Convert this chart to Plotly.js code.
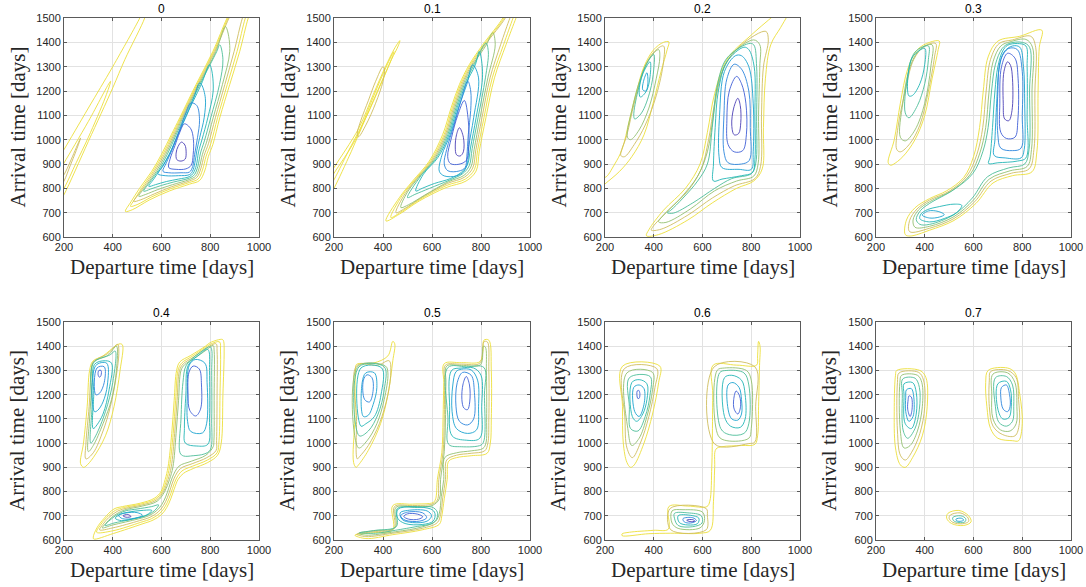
<!DOCTYPE html>
<html>
<head>
<meta charset="utf-8">
<script src="https://cdn.plot.ly/plotly-3.0.1.min.js"></script>
<style>html,body{margin:0;padding:0;background:#fff;}#chart{width:1086px;height:587px;}</style>
</head>
<body>
<div id="chart"></div>
<script>
const panelTitles = ['0','0.1','0.2','0.3','0.4','0.5','0.6','0.7'];
const xTickVals = [200,400,600,800,1000];
const yTickVals = [600,700,800,900,1000,1100,1200,1300,1400,1500];
const xTitleText = 'Departure time [days]';
const yTitleText = 'Arrival time [days]';
// contour level colours, innermost (0) to outermost (8)
const levelColors = ['#4b3fb5','#3f5fd6','#2d86dc','#1ba3cf','#23b5b5','#4dbd98','#93bf70','#cfbd5f','#ecdf3a'];

// each loop: [level, [x1,y1, x2,y2, ...]]
const loops_p0 = [
 [8,[890,1540,869,1500,811,1363,742,1227,675,1090,640,1020,600,940,560,870,510,800,475,745,452,705,480,712,550,752,632,789,714,817,756,832,777,871,792,930,811,981,839,1090,880,1227,921,1363,956,1500,972,1540]],
 [8,[894,1540,873,1500,815,1363,746,1227,679,1090,645,1020,606,940,566,870,518,800,488,752,473,726,500,733,560,765,636,798,714,824,750,838,768,875,783,932,802,983,830,1090,870,1227,910,1363,944,1500,960,1540]],
 [7,[898,1540,877,1500,819,1363,750,1227,683,1090,650,1020,612,940,572,870,527,805,500,768,486,746,515,753,570,777,640,806,714,830,745,845,761,880,775,935,793,985,821,1090,860,1227,898,1363,932,1500,948,1540]],
 [6,[862,1465,823,1363,754,1227,687,1090,655,1020,618,940,580,872,538,812,507,767,535,775,585,795,645,815,714,836,740,850,755,885,768,940,785,990,812,1090,850,1227,880,1363,870,1450,862,1465]],
 [5,[839,1390,827,1363,758,1227,692,1090,660,1020,624,940,590,878,552,825,527,788,555,797,600,812,650,826,714,842,735,856,749,890,760,945,776,995,802,1090,838,1227,852,1330,839,1390]],
 [4,[797,1308,763,1227,697,1090,666,1020,632,940,600,885,568,838,548,808,575,815,620,828,670,838,714,848,730,862,743,895,752,950,766,1000,790,1090,812,1200,805,1290,797,1308]],
 [3,[756,1233,735,1180,703,1100,672,1030,640,955,605,890,585,860,615,852,670,852,714,856,727,870,737,905,745,955,757,1010,775,1090,780,1170,765,1225,756,1233]],
 [2,[721,1151,700,1110,678,1050,648,970,620,905,606,870,630,864,680,864,715,867,728,890,736,940,748,1010,756,1080,745,1140,721,1151]],
 [1,[694,1065,675,1030,655,975,635,920,630,885,660,878,700,880,722,895,730,940,731,1000,720,1045,694,1065]],
 [0,[682,990,668,972,660,945,663,918,680,912,697,920,701,950,696,978,682,990]],
 [8,[180,925,200,959,300,1130,400,1300,511,1500,520,1520,535,1520,531,1500,450,1330,400,1213,300,993,200,774,180,740]],
 [8,[180,870,200,904,300,1075,391,1240,370,1175,300,1010,250,905,200,800,180,770]],
 [7,[180,830,200,856,268,1007,250,955,225,892,200,830,180,800]]
];
const loops_p1 = [
 [8,[900,1530,889,1500,807,1390,752,1308,712,1227,678,1131,644,1022,589,912,521,830,467,762,412,666,467,694,548,748,657,803,739,830,780,871,793,953,820,1090,855,1254,902,1390,943,1500,955,1530]],
 [8,[905,1530,894,1500,812,1390,757,1308,717,1227,683,1131,650,1022,596,915,530,835,478,770,432,680,478,706,555,757,660,812,736,838,773,877,786,955,812,1090,846,1254,892,1390,931,1500,943,1530]],
 [7,[910,1530,899,1500,817,1390,762,1308,722,1227,688,1131,655,1022,603,918,538,840,490,778,453,700,490,718,562,765,663,820,733,846,766,883,779,958,804,1090,837,1254,880,1390,918,1500,930,1530]],
 [6,[848,1440,822,1390,767,1308,727,1227,693,1131,660,1022,610,921,546,845,500,785,473,721,505,733,570,772,667,827,730,853,759,888,772,960,796,1090,828,1254,858,1390,848,1440]],
 [5,[820,1397,772,1308,732,1227,698,1131,665,1022,617,924,555,852,500,762,530,775,590,800,670,833,725,860,752,893,764,963,788,1090,818,1254,830,1360,820,1397]],
 [4,[793,1363,777,1308,737,1227,703,1131,670,1022,625,928,565,858,534,789,560,800,610,820,675,840,720,866,745,898,757,966,780,1090,806,1254,800,1340,793,1363]],
 [3,[766,1308,742,1227,708,1131,675,1022,640,935,630,870,650,851,700,851,730,870,745,905,750,970,770,1090,790,1254,766,1308]],
 [2,[746,1240,718,1160,690,1060,660,960,650,900,665,872,710,871,735,885,742,930,748,1020,758,1120,758,1200,746,1240]],
 [1,[732,1161,705,1100,680,1010,664,930,675,902,710,899,740,915,750,980,748,1080,732,1161]],
 [0,[712,1049,700,1020,695,970,700,938,715,933,728,950,728,1010,712,1049]],
 [8,[180,850,200,885,300,1045,360,1185,410,1300,450,1380,469,1407,462,1385,435,1330,395,1240,330,1090,270,950,200,800,180,765]],
 [8,[180,830,200,862,290,1005,350,1150,400,1270,440,1355,445,1362,430,1320,390,1225,330,1090,270,975,200,835,180,800]],
 [7,[400,1300,370,1240,340,1160,310,1080,295,1025,300,1012,330,1060,370,1150,400,1240,406,1290,400,1300]]
];
const loops_p2 = [
 [8,[905,1520,800,1430,700,1330,650,1190,620,1030,590,900,530,800,440,710,380,630,370,605,420,610,540,670,640,740,740,800,810,830,845,880,850,1050,858,1250,880,1390,920,1460,955,1520]],
 [7,[860,1445,760,1390,690,1300,650,1150,625,1000,595,880,540,790,460,710,395,640,390,628,430,632,540,690,640,760,730,810,815,840,838,890,842,1100,850,1300,870,1410,860,1445]],
 [6,[810,1410,720,1350,670,1250,645,1100,620,950,580,850,510,760,440,690,420,662,450,660,550,715,650,790,740,830,810,850,828,900,830,1100,835,1300,835,1390,810,1410]],
 [5,[790,1395,700,1335,660,1220,640,1050,620,900,580,830,520,760,470,710,455,700,480,698,560,740,650,800,720,840,800,860,818,900,822,1100,822,1300,810,1390,790,1395]],
 [4,[770,1380,700,1320,665,1200,652,1050,645,900,645,830,680,838,760,852,805,865,815,920,815,1100,812,1300,790,1370,770,1380]],
 [3,[735,1345,690,1280,670,1100,668,930,680,885,750,878,800,878,808,950,808,1150,790,1300,760,1345,735,1345]],
 [2,[730,1310,700,1250,688,1100,688,950,705,905,760,900,792,915,796,1050,790,1200,760,1290,730,1310]],
 [1,[740,1260,710,1200,700,1080,705,980,730,950,765,955,780,1020,778,1150,760,1230,740,1260]],
 [0,[745,1170,728,1130,720,1060,730,1020,748,1025,757,1070,755,1140,745,1170]],
 [8,[180,865,200,845,240,900,270,960,300,1080,330,1200,360,1300,400,1370,440,1400,462,1402,455,1370,430,1280,400,1160,360,1020,310,930,260,870,200,818,180,800]],
 [7,[440,1385,400,1360,360,1290,320,1150,290,1020,265,935,280,930,320,980,365,1060,410,1180,440,1320,440,1385]],
 [6,[420,1370,380,1330,345,1250,310,1120,292,1010,305,1000,340,1040,380,1130,410,1250,425,1340,420,1370]],
 [5,[400,1350,365,1300,335,1200,318,1100,322,1085,350,1110,385,1200,400,1290,400,1350]],
 [4,[385,1320,355,1270,340,1200,345,1175,370,1200,385,1260,385,1320]],
 [3,[372,1275,358,1240,355,1205,368,1200,376,1235,372,1275]]
];
const loops_p3 = [
 [8,[880,1450,790,1425,700,1405,660,1340,640,1200,625,1050,600,930,560,845,490,790,420,758,360,720,325,670,320,610,340,604,420,628,520,668,610,738,680,822,760,852,840,868,860,950,865,1200,870,1380,880,1450]],
 [7,[835,1425,760,1410,705,1395,670,1330,652,1200,638,1050,614,940,572,850,500,788,420,752,368,715,338,668,338,622,420,636,520,676,605,745,672,830,755,862,828,880,848,960,852,1200,855,1380,835,1425]],
 [6,[815,1412,750,1402,712,1385,680,1320,664,1200,650,1050,626,945,585,855,510,790,420,745,375,712,352,670,360,640,420,644,520,684,600,752,665,838,750,872,820,890,838,960,840,1200,842,1380,815,1412]],
 [5,[800,1400,745,1395,718,1375,690,1310,674,1200,660,1050,638,950,598,862,520,795,420,738,382,708,365,672,380,652,420,652,520,692,595,760,658,848,745,884,810,900,828,960,830,1200,830,1380,800,1400]],
 [4,[780,1395,740,1388,720,1365,700,1300,688,1200,678,1050,668,930,662,902,700,905,780,912,815,925,820,1100,820,1300,815,1385,780,1395]],
 [3,[760,1385,725,1360,705,1290,695,1150,688,1000,685,935,730,925,795,925,808,960,810,1150,805,1300,790,1380,760,1385]],
 [2,[745,1375,712,1330,700,1200,700,1020,712,965,760,955,795,965,800,1100,800,1280,780,1370,745,1375]],
 [1,[740,1355,715,1300,708,1150,712,1030,735,1005,770,1010,782,1080,783,1250,770,1335,740,1355]],
 [0,[740,1320,725,1280,722,1150,728,1085,745,1078,758,1120,760,1250,752,1305,740,1320]],
 [4,[380,675,420,662,480,676,530,700,552,730,520,735,460,725,410,712,385,695,380,675]],
 [3,[390,690,420,678,460,682,480,692,455,705,415,707,390,690]],
 [8,[260,895,250,905,275,1000,300,1150,330,1290,370,1370,420,1400,460,1405,455,1370,430,1250,400,1100,360,1000,310,930,270,898,260,895]],
 [7,[445,1395,400,1385,355,1330,320,1200,290,1050,285,960,300,950,340,985,380,1060,415,1200,440,1340,445,1395]],
 [6,[430,1390,380,1370,340,1300,310,1150,300,1010,320,995,360,1040,400,1150,425,1300,430,1390]],
 [5,[415,1385,360,1360,330,1260,320,1110,335,1090,370,1140,400,1230,415,1330,415,1385]],
 [4,[400,1375,350,1340,332,1270,335,1180,350,1182,380,1230,400,1310,400,1375]]
];
const loops_p4 = [
 [8,[850,1428,800,1415,780,1400,720,1362,675,1335,662,1300,652,1177,642,1040,627,902,615,850,598,800,570,772,513,752,440,738,405,728,365,690,335,650,320,612,322,604,403,627,520,666,565,682,600,705,622,735,638,770,652,810,668,850,690,875,730,895,790,920,830,950,845,1000,852,1200,857,1380,855,1420,850,1428]],
 [8,[838,1418,800,1408,780,1395,725,1358,682,1330,668,1300,658,1177,648,1040,633,902,621,850,603,800,574,768,515,748,445,734,412,723,374,692,348,660,334,632,400,638,515,673,559,688,593,710,615,738,631,772,645,812,660,852,684,885,728,905,788,930,828,960,836,1010,840,1200,842,1380,838,1418]],
 [7,[824,1410,780,1390,730,1354,689,1327,674,1300,664,1177,654,1040,640,902,627,850,608,800,578,764,518,744,450,730,418,718,384,693,360,665,346,642,400,650,510,680,553,694,586,715,608,742,624,775,638,815,652,855,678,895,726,915,786,940,824,970,826,1010,828,1200,828,1380,824,1410]],
 [6,[812,1403,785,1385,735,1350,695,1324,680,1300,670,1177,660,1040,647,902,633,850,613,800,582,760,521,740,455,726,424,713,394,692,371,668,357,650,400,662,505,687,547,700,579,720,601,746,617,778,631,818,645,860,672,905,722,925,782,950,812,985,815,1010,816,1200,816,1380,812,1403]],
 [5,[800,1398,760,1375,702,1322,688,1250,680,1100,676,960,690,947,730,948,775,955,800,972,806,1100,806,1300,806,1385,800,1398]],
 [4,[788,1388,755,1365,710,1322,700,1200,694,1060,698,1000,745,988,790,995,797,1100,797,1300,795,1378,788,1388]],
 [3,[738,1345,714,1322,706,1200,707,1090,720,1048,768,1042,785,1080,787,1250,778,1330,738,1345]],
 [1,[730,1318,713,1293,709,1200,716,1135,740,1112,760,1140,764,1240,755,1306,730,1318]],
 [5,[428,710,398,690,368,660,405,670,470,684,535,700,572,722,588,745,560,738,500,728,455,721,428,710]],
 [4,[432,706,410,690,435,680,495,690,540,704,560,722,520,722,470,716,432,706]],
 [3,[424,702,440,688,490,690,522,702,500,713,455,712,424,702]],
 [0,[442,700,455,694,475,697,462,705,442,700]],
 [8,[280,900,268,915,280,1000,295,1150,305,1300,318,1338,360,1360,410,1400,430,1410,440,1405,430,1300,405,1150,370,1030,320,940,290,905,280,900]],
 [7,[290,935,290,1000,303,1150,312,1300,320,1335,380,1370,420,1408,425,1380,415,1280,390,1150,360,1050,320,960,290,935]],
 [6,[300,965,305,1100,315,1250,320,1333,380,1362,415,1400,415,1300,395,1180,360,1080,320,990,300,965]],
 [5,[310,1000,315,1150,320,1330,390,1365,410,1380,400,1250,370,1130,330,1030,310,1000]],
 [4,[320,1060,322,1200,325,1325,370,1340,395,1330,385,1220,360,1120,335,1075,320,1060]],
 [3,[325,1130,330,1320,375,1330,378,1240,360,1170,338,1135,325,1130]],
 [2,[330,1200,335,1310,365,1315,365,1250,345,1205,330,1200]],
 [1,[340,1282,343,1300,352,1300,352,1280,346,1272,340,1282]]
];
const loops_p5 = [
 [8,[285,620,360,630,440,642,440,742,520,748,605,755,615,770,622,850,640,960,645,1100,648,1250,650,1328,720,1332,795,1336,808,1380,812,1425,832,1425,842,1300,842,1100,838,1000,825,958,760,948,700,940,668,925,662,850,650,770,640,700,630,665,560,642,440,622,330,606,285,620]],
 [7,[292,624,360,634,445,648,447,738,520,742,600,748,622,765,628,850,645,960,650,1100,652,1250,655,1322,720,1326,795,1330,812,1418,826,1418,832,1300,832,1100,828,1000,815,968,760,958,700,950,660,930,655,850,644,775,635,705,622,672,560,648,440,628,330,614,292,624]],
 [6,[300,628,360,638,450,652,452,734,520,738,600,742,630,770,635,850,650,965,655,1100,657,1250,660,1318,720,1321,798,1324,810,1400,818,1396,822,1300,823,1100,820,1000,808,978,760,968,700,960,652,940,648,850,638,780,630,710,615,678,560,654,450,634,330,620,300,628]],
 [5,[665,1312,665,1100,668,995,720,985,800,992,812,1010,814,1200,812,1312,740,1315,665,1312]],
 [4,[680,1300,672,1150,682,1030,740,1012,795,1020,803,1150,800,1280,770,1310,720,1310,680,1300]],
 [3,[698,1295,685,1240,682,1130,700,1060,745,1040,782,1055,790,1150,786,1260,760,1302,720,1305,698,1295]],
 [2,[725,1292,703,1250,698,1150,712,1090,745,1075,770,1100,773,1210,760,1280,725,1292]],
 [1,[740,1275,727,1245,722,1180,730,1145,745,1138,754,1170,753,1240,740,1275]],
 [5,[305,630,370,640,455,656,458,730,540,734,600,736,622,715,618,685,600,668,540,656,450,640,370,628,305,630]],
 [4,[462,728,460,690,490,668,560,664,605,678,612,710,595,728,462,728]],
 [3,[470,712,478,685,520,672,580,678,598,700,580,720,500,722,470,712]],
 [2,[472,700,490,682,550,678,578,692,562,712,500,715,472,700]],
 [1,[485,697,505,686,545,686,562,696,540,707,500,708,485,697]],
 [8,[290,900,280,920,285,1100,288,1300,292,1325,360,1330,420,1360,440,1420,448,1410,440,1340,420,1200,390,1080,340,970,300,910,290,900]],
 [7,[295,935,292,1100,293,1320,380,1322,425,1340,432,1300,420,1200,385,1080,340,990,305,945,295,935]],
 [6,[300,980,298,1318,410,1318,420,1290,405,1180,375,1080,335,1010,300,980]],
 [5,[303,1030,302,1315,405,1315,405,1220,380,1120,340,1050,303,1030]],
 [4,[310,1070,310,1310,395,1310,392,1200,365,1110,330,1080,310,1070]],
 [3,[320,1110,315,1250,330,1290,365,1290,375,1230,360,1160,340,1115,320,1110]],
 [2,[325,1180,320,1260,335,1282,355,1270,360,1220,345,1170,325,1180]]
];
const loops_p6 = [
 [8,[270,625,300,632,400,640,460,645,462,738,540,740,618,738,630,760,638,900,640,985,642,1200,644,1322,740,1322,822,1322,826,1360,830,1420,836,1400,834,1320,830,1150,826,1030,815,995,760,990,680,985,655,975,650,900,645,760,632,640,590,628,470,628,380,626,270,618,270,625]],
 [7,[648,1315,815,1315,818,1150,815,1005,790,998,650,996,648,1315]],
 [7,[467,730,615,730,620,700,615,642,470,642,467,730]],
 [6,[660,1300,690,1310,780,1300,800,1260,800,1060,790,1020,700,1010,665,1030,660,1300]],
 [5,[670,1290,700,1300,770,1290,790,1240,790,1080,770,1040,710,1035,675,1060,670,1290]],
 [4,[690,1270,720,1280,760,1260,775,1200,775,1100,755,1065,715,1070,690,1110,690,1270]],
 [3,[705,1240,725,1250,750,1230,760,1180,760,1120,745,1095,720,1100,705,1140,705,1240]],
 [1,[738,1215,728,1180,730,1140,745,1120,756,1150,752,1195,738,1215]],
 [6,[475,720,520,725,600,715,608,680,590,650,500,648,475,670,475,720]],
 [5,[485,710,540,712,595,700,598,670,560,655,500,660,485,690,485,710]],
 [4,[500,700,550,702,585,690,580,668,540,662,505,672,500,700]],
 [2,[520,688,560,692,575,680,550,670,525,675,520,688]],
 [0,[535,682,560,684,568,678,548,676,535,682]],
 [8,[272,1318,425,1318,420,1250,395,1120,360,1000,320,910,305,900,290,920,275,1000,272,1150,272,1318]],
 [7,[280,1308,412,1308,405,1230,380,1110,345,1000,312,940,290,980,282,1100,280,1308]],
 [6,[290,1290,395,1292,395,1220,372,1110,340,1020,310,990,295,1050,290,1290]],
 [5,[300,1270,385,1275,385,1200,365,1110,335,1050,305,1060,300,1150,300,1270]],
 [4,[310,1250,340,1262,372,1245,372,1180,355,1120,330,1090,312,1110,310,1250]],
 [3,[318,1230,340,1240,360,1225,360,1160,340,1110,322,1130,318,1230]],
 [1,[332,1215,338,1218,343,1205,340,1185,334,1185,332,1215]]
];
const loops_p7 = [
 [8,[285,1300,380,1300,405,1270,410,1150,390,1030,350,940,320,900,300,910,280,980,275,1150,280,1280,285,1300]],
 [7,[295,1290,375,1292,395,1260,400,1150,380,1040,345,960,320,930,300,950,288,1050,288,1250,295,1290]],
 [6,[305,1280,370,1280,388,1250,390,1150,370,1050,340,990,315,980,300,1050,298,1250,305,1280]],
 [5,[310,1265,360,1268,378,1230,378,1140,360,1060,330,1020,312,1050,308,1200,310,1265]],
 [4,[315,1245,350,1250,365,1210,365,1120,345,1060,320,1080,315,1200,315,1245]],
 [3,[325,1220,345,1225,355,1190,352,1110,335,1090,322,1130,322,1190,325,1220]],
 [1,[335,1195,345,1190,348,1140,340,1110,330,1140,332,1180,335,1195]],
 [8,[660,1300,740,1310,770,1290,790,1200,800,1080,785,1010,760,1010,700,1020,670,1060,655,1150,650,1250,660,1300]],
 [7,[670,1295,740,1300,775,1270,785,1180,788,1080,770,1030,720,1035,680,1070,665,1150,665,1260,670,1295]],
 [6,[680,1285,740,1290,770,1250,778,1150,775,1080,750,1050,710,1055,680,1100,675,1200,680,1285]],
 [5,[690,1270,735,1275,760,1240,765,1150,760,1090,735,1070,705,1085,690,1150,690,1270]],
 [4,[700,1245,735,1255,752,1220,755,1150,745,1105,720,1100,700,1140,700,1245]],
 [2,[715,1230,735,1240,748,1200,750,1150,740,1130,722,1140,712,1190,715,1230]],
 [8,[495,710,540,722,580,700,590,675,560,660,510,668,490,690,495,710]],
 [7,[505,703,545,712,575,695,580,677,555,667,515,673,500,690,505,703]],
 [5,[515,693,548,700,568,688,565,675,540,672,518,680,515,693]],
 [3,[528,686,550,690,560,682,545,677,530,680,528,686]]
];

const panels = [loops_p0, loops_p1, loops_p2, loops_p3, loops_p4, loops_p5, loops_p6, loops_p7];

// layout geometry (pixels)
const W = 1086, H = 587;
const colPx = [[64,259],[334,530],[605,800],[876,1071]];
const rowPx = [[18,237],[322,540]];

const traces = [];
const layout = {
  width: W, height: H,
  margin: {l:0, r:0, t:0, b:0},
  paper_bgcolor: '#ffffff', plot_bgcolor: '#ffffff',
  showlegend: false,
  annotations: []
};
const tickFont = {family: 'Liberation Sans, Arial, sans-serif', size: 11, color: '#262626'};
const serif = {family: 'Liberation Serif, Times New Roman, serif', size: 21, color: '#262626'};

panels.forEach((loops, i) => {
  const col = i % 4, row = Math.floor(i / 4);
  const [l, r] = colPx[col], [t, b] = rowPx[row];
  const n = i === 0 ? '' : String(i + 1);
  const common = {
    showgrid: true, gridcolor: '#e2e2e2', gridwidth: 1, zeroline: false,
    showline: true, linecolor: '#5a5a5a', linewidth: 1, mirror: 'ticks',
    ticks: 'inside', ticklen: 3, tickcolor: '#5a5a5a', tickfont: tickFont,
    fixedrange: true
  };
  layout['xaxis' + n] = Object.assign({}, common, {
    domain: [l / W, r / W], anchor: 'y' + n, range: [200, 1000],
    tickvals: xTickVals, ticktext: xTickVals.map(String)
  });
  layout['yaxis' + n] = Object.assign({}, common, {
    domain: [1 - b / H, 1 - t / H], anchor: 'x' + n, range: [600, 1500],
    tickvals: yTickVals, ticktext: yTickVals.map(String)
  });
  loops.forEach(([lvl, pts]) => {
    const x = [], y = [];
    for (let k = 0; k < pts.length; k += 2) { x.push(pts[k]); y.push(pts[k + 1]); }
    traces.push({
      type: 'scatter', mode: 'lines', x: x, y: y,
      xaxis: 'x' + n, yaxis: 'y' + n,
      line: {color: levelColors[lvl], width: 0.9, shape: 'spline', smoothing: 1},
      hoverinfo: 'skip', showlegend: false
    });
  });
  const cx = (l + r) / 2 / W;
  layout.annotations.push({
    text: panelTitles[i], xref: 'paper', yref: 'paper', x: cx, y: 1 - (t - 9) / H,
    xanchor: 'center', yanchor: 'middle', showarrow: false,
    font: {family: 'Liberation Sans, Arial, sans-serif', size: 12, color: '#000000'}
  });
  layout.annotations.push({
    text: xTitleText, xref: 'paper', yref: 'paper', x: cx, y: 1 - (b + 30) / H,
    xanchor: 'center', yanchor: 'middle', showarrow: false, font: serif
  });
  layout.annotations.push({
    text: yTitleText, xref: 'paper', yref: 'paper', x: (l - 47) / W, y: 1 - ((t + b) / 2) / H,
    xanchor: 'center', yanchor: 'middle', textangle: -90, showarrow: false, font: serif
  });
});

Plotly.newPlot('chart', traces, layout, {staticPlot: true, displayModeBar: false});
</script>
</body>
</html>
